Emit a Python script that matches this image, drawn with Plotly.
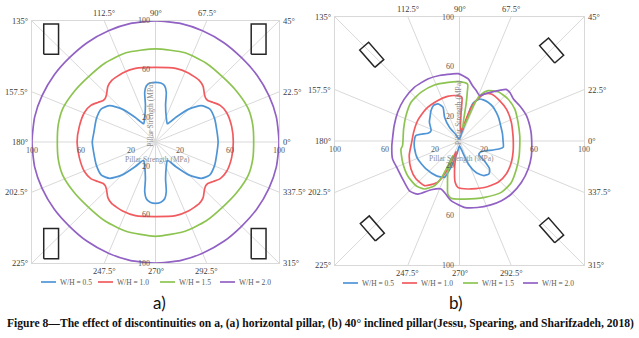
import numpy as np
import plotly.graph_objects as go

FIG_W, FIG_H = 639, 338

SERIES_NAMES = ["W/H = 0.5", "W/H = 1.0", "W/H = 1.5", "W/H = 2.0"]
SERIES_COLORS = ["#4f95d6", "#f15b5f", "#8dc451", "#9161c4"]

# ---------------- panel a : horizontal pillar (angle in degrees, strength in MPa)
A_THETA_05 = [0, 9, 22, 32, 39, 45, 51, 57.5, 65, 75, 78, 81, 85, 90, 95, 99, 102, 105, 115, 122.5,
              129, 135, 141, 148, 158, 171, 180, 189, 202, 212, 219, 225, 231, 237.5, 245, 255, 258,
              261, 265, 270, 275, 279, 282, 285, 295, 302.5, 309, 315, 321, 328, 338, 351, 360]
A_R_05 = [50.7, 50.5, 51.6, 51.7, 47.7, 38.7, 26.3, 17.9, 21, 31.5, 42, 47, 49, 49.3, 49, 47, 42, 31.5, 21, 17.9,
          26.3, 38.7, 47.7, 51.7, 51.6, 50.5, 51.2, 50.8, 51.6, 51.7, 47.7, 38.7, 26.3, 17.9, 21, 31.5, 42,
          47.5, 50, 50.7, 50, 47.5, 42, 31.5, 21, 17.9, 26.3, 38.7, 47.7, 51.7, 51.6, 50.5, 50.7]

A_THETA_10 = [0, 12, 23, 30, 35, 39, 42, 45, 50, 55, 65, 75, 90, 105, 115, 125, 130, 135, 138, 141, 145,
              150, 157, 168, 180, 192, 203, 210, 215, 219, 222, 225, 230, 235, 245, 255, 270, 285, 295,
              305, 310, 315, 318, 321, 325, 330, 337, 348, 360]
A_R_10 = [63, 63, 62.5, 60.5, 57, 54.5, 54.5, 56, 60, 62, 63, 63, 61.6, 63, 63, 62, 60, 56, 54.5, 54.5, 57,
          60.5, 62.5, 63, 63.5, 63, 62.5, 60.5, 57, 54.5, 54.5, 56, 60, 62, 63, 63, 61.6, 63, 63,
          62, 60, 56, 54.5, 54.5, 57, 60.5, 62.5, 63, 63]

A_THETA_15 = [0, 10, 20, 32, 44, 58, 72, 90, 108, 122, 136, 148, 160, 170, 180, 190, 200, 212, 224, 238,
              252, 270, 288, 302, 316, 328, 340, 350, 360]
A_R_15 = [79.5, 80, 80, 78, 76.5, 77, 77.5, 77, 77.5, 77, 76.5, 78, 80, 80, 79.5, 80, 80, 78, 76.5, 77,
          77.5, 78, 77.5, 77, 76.5, 78, 80, 80, 79.5]

A_THETA_20 = [0, 12, 22.5, 34, 45, 56, 67.5, 78, 90, 102, 112.5, 124, 135, 146, 157.5, 168, 180, 192, 202.5,
              214, 225, 236, 247.5, 258, 270, 282, 292.5, 304, 315, 326, 337.5, 348, 360]
A_R_20 = [100, 100, 99.5, 99, 98.5, 99, 99.5, 100, 100, 100, 99.5, 99, 98.5, 99, 99.5, 100, 100, 100, 99.5,
          99, 98.5, 99, 99.5, 100, 100, 100, 99.5, 99, 98.5, 99, 99.5, 100, 100]

# ---------------- panel b : 40 deg inclined pillar
B_THETA_05 = [0, 10, 20.5, 30, 38, 46, 53.8, 60, 64.5, 68, 70.5, 71.5, 72, 72.5, 75, 90, 110, 120, 126, 122,
              116, 120, 126, 133, 141, 148, 160, 166, 170, 173, 180, 188, 203, 220, 236, 247.6, 250.5, 254,
              259, 270, 282, 291, 298, 305, 312, 317, 321, 325, 332, 339, 345, 349, 352, 360]
B_R_05 = [35, 35, 35.3, 36.5, 37.5, 38.5, 38.7, 38.3, 37.5, 35, 32, 28, 20, 13, 6, 2, 2, 6, 13.7, 22.6,
          30.3, 34.5, 35.5, 33.5, 30.5, 28.5, 24.3, 26, 31.4, 35.4, 36.3, 36.6, 36.6, 35.1, 33.7, 31.7, 26, 18,
          10, 4, 7, 20, 29, 34, 35.5, 33, 26, 19, 19, 22, 28, 33, 35.5, 35]

B_THETA_10 = [0, 6, 20, 34, 45, 56, 62, 66.4, 71, 73, 77, 80, 85, 86.6, 86.9, 87, 94, 105, 118, 136, 154,
              169, 182, 196, 210, 221, 232, 237, 242.3, 247.4, 249.7, 252, 256, 260, 264, 268, 280, 298,
              313, 325, 338, 350, 360]
B_R_10 = [43.2, 43.2, 44.3, 45.6, 45.8, 45.7, 42.9, 37, 28.7, 18.5, 10, 7, 10, 13.7, 24.5, 35.3, 36.7, 37.2, 36.9,
          37.3, 37.4, 37.5, 38.5, 42, 45, 46.4, 45.7, 42, 37.6, 24.5, 15.5, 9, 13, 22.9, 33.5, 37.4, 39.3,
          42.5, 45.5, 46, 45, 43.8, 43.2]

B_THETA_15 = [0, 5, 18, 30, 41, 52, 60.6, 65, 68, 69.5, 72, 76, 79, 80, 81, 82, 91.6, 101, 114, 128, 141,
              154.6, 168, 184.7, 188, 200.6, 213.9, 226, 233.9, 240.8, 244, 245, 245.5, 248, 249.6, 255,
              257.6, 261.7, 275, 294, 309, 321, 333.7, 345, 360]
B_R_15 = [48.5, 48.6, 49.4, 51.3, 51.6, 50.4, 46.6, 41.7, 33.5, 22, 14, 11, 18, 31.6, 40, 46.4, 47.9, 48.2, 49.5,
          50, 49.9, 47.6, 45.9, 45.9, 47.5, 48.8, 50.2, 50.2, 47.9, 41.3, 33, 22, 13, 21.5, 27, 37.2, 43.8,
          46.7, 47, 49.7, 53.3, 53.4, 51, 49.5, 48.5]

B_THETA_20 = [0, 8, 21, 30, 38, 44, 48, 55, 62, 66, 72, 77, 82, 91, 97, 107, 117, 130, 143, 155, 167, 180,
              184, 195, 204, 214, 225, 232, 240, 249, 256, 262, 274, 285, 296, 305, 314, 326, 338, 348, 360]
B_R_20 = [58, 57.9, 57.5, 56.2, 55, 56.3, 56, 48.8, 43, 40, 43, 46, 50.5, 54.3, 54.4, 55.2, 56.1, 56.5, 55.8,
          54.8, 53.9, 54, 54.5, 55.7, 54.6, 55, 56.8, 54.4, 45.4, 41.4, 44.5, 48.6, 53.6, 55.5, 57.3, 58.8,
          59.7, 59.9, 59.6, 59, 58]

# ---------------- axes / labels
SPOKE_ANGLES = [0, 22.5, 45, 67.5, 90, 112.5, 135, 157.5, 180, 202.5, 225, 247.5, 270, 292.5, 315, 337.5]
ANGLE_LABELS = ["0°", "22.5°", "45°", "67.5°", "90°", "112.5°", "135°", "157.5°", "180°", "202.5°",
                "225°", "247.5°", "270°", "292.5°", "315°", "337.5°"]
TICK_VALUES = [-100, -60, -20, 20, 60, 100]
TICK_LABELS = ["100", "60", "20", "20", "60", "100"]
AXIS_TITLE = "Pillar Strength (MPa)"
PANEL_LABELS = ["a)", "b)"]
CAPTION = ("Figure 8—The effect of discontinuities on a, (a) horizontal pillar, (b) 40° inclined "
           "pillar(Jessu, Spearing, and Sharifzadeh, 2018)")

# pillar sketches: (centre x, centre y) in data units
A_PILLARS = [(-84.5, 85), (83.5, 85), (-84.5, -84), (83.5, -84)]
B_PILLARS = [(-70.5, 69.5), (74, 73), (-70, -70.5), (74, -72)]

PANELS = [
    dict(xa="x", ya="y", px_x=(32, 279), px_y=(21, 263),
         thetas=[A_THETA_05, A_THETA_10, A_THETA_15, A_THETA_20], rs=[A_R_05, A_R_10, A_R_15, A_R_20],
         pillars=A_PILLARS, pillar_size=(12, 25), pillar_tilt=0,
         legend_px=[41, 98, 160, 220], legend_y=282, vtitle_shift=-5, label_px=(159, 302)),
    dict(xa="x2", ya="y2", px_x=(335, 584), px_y=(17, 265),
         thetas=[B_THETA_05, B_THETA_10, B_THETA_15, B_THETA_20], rs=[B_R_05, B_R_10, B_R_15, B_R_20],
         pillars=B_PILLARS, pillar_size=(9.5, 18.5), pillar_tilt=41,
         legend_px=[343, 402, 463, 523], legend_y=283, vtitle_shift=-1, label_px=(456, 302)),
]

SERIF = "Liberation Serif"
GRID = "#d9d9d9"


def px2x(px):
    return px / FIG_W


def px2y(py):
    return 1 - py / FIG_H


fig = go.Figure()
shapes = []
annotations = []
layout_axes = {}

for pi, p in enumerate(PANELS):
    xa, ya = p["xa"], p["ya"]
    # curves
    for name, color, th, rr in zip(SERIES_NAMES, SERIES_COLORS, p["thetas"], p["rs"]):
        t = np.radians(np.asarray(th, float))
        r = np.asarray(rr, float)
        fig.add_trace(go.Scatter(x=r * np.cos(t), y=r * np.sin(t), mode="lines", name=name,
                                 line=dict(color=color, width=1.7, shape="spline", smoothing=0.6),
                                 xaxis=xa, yaxis=ya, showlegend=False, hoverinfo="skip"))
    # pillars
    w, h = p["pillar_size"]
    a = np.radians(p["pillar_tilt"])
    lx = np.array([-w / 2, w / 2, w / 2, -w / 2, -w / 2])
    ly = np.array([-h / 2, -h / 2, h / 2, h / 2, -h / 2])
    rx = lx * np.cos(a) - ly * np.sin(a)
    ry = lx * np.sin(a) + ly * np.cos(a)
    for cx, cy in p["pillars"]:
        fig.add_trace(go.Scatter(x=rx + cx, y=ry + cy, mode="lines", line=dict(color="#262626", width=1.5),
                                 xaxis=xa, yaxis=ya, showlegend=False, hoverinfo="skip"))
    # spokes + angle labels
    for ang, lab in zip(SPOKE_ANGLES, ANGLE_LABELS):
        c, s = np.cos(np.radians(ang)), np.sin(np.radians(ang))
        k = 100 / max(abs(c), abs(s))
        ex, ey = k * c, k * s
        if abs(ex) < 1e-9:
            ex = 0.0
        shapes.append(dict(type="line", xref=xa, yref=ya, x0=0, y0=0, x1=ex, y1=ey,
                           line=dict(color=GRID, width=1), layer="below"))
        ann = dict(xref=xa, yref=ya, x=ex, y=ey, text=lab, showarrow=False,
                   font=dict(family=SERIF, size=8.5, color="#404040"))
        if abs(ex) < 99.9:  # top / bottom edge
            if ey > 0:
                ann.update(xanchor="center", yanchor="bottom", yshift=1)
            else:
                ann.update(xanchor="center", yanchor="top", yshift=-1)
        else:
            if ex > 0:
                ann.update(xanchor="left", yanchor="middle", xshift=2)
            else:
                ann.update(xanchor="right", yanchor="middle", xshift=-2)
        annotations.append(ann)
    # tick labels along the crossing axes
    for v, lab in zip(TICK_VALUES, TICK_LABELS):
        annotations.append(dict(xref=xa, yref=ya, x=v, y=0, text=lab, showarrow=False, xanchor="center",
                                yanchor="top", yshift=-2, font=dict(family=SERIF, size=8, color="#595959")))
        annotations.append(dict(xref=xa, yref=ya, x=0, y=v, text=lab, showarrow=False, xanchor="right",
                                yanchor="middle", xshift=-4, font=dict(family=SERIF, size=8, color="#595959")))
    # axis titles
    annotations.append(dict(xref=xa, yref=ya, x=2, y=0, text=AXIS_TITLE, showarrow=False, xanchor="center",
                            yanchor="middle", yshift=-17, font=dict(family=SERIF, size=7.5, color="#8c8c8c")))
    annotations.append(dict(xref=xa, yref=ya, x=0, y=23, text=AXIS_TITLE, showarrow=False, textangle=-90,
                            xanchor="center", yanchor="middle", xshift=p["vtitle_shift"],
                            font=dict(family=SERIF, size=7.5, color="#8c8c8c")))
    # custom legend
    for x0, name, color in zip(p["legend_px"], SERIES_NAMES, SERIES_COLORS):
        shapes.append(dict(type="line", xref="paper", yref="paper", x0=px2x(x0), x1=px2x(x0 + 15),
                           y0=px2y(p["legend_y"]), y1=px2y(p["legend_y"]),
                           line=dict(color=color, width=1.7)))
        annotations.append(dict(xref="paper", yref="paper", x=px2x(x0 + 17), y=px2y(p["legend_y"]),
                                text=name, showarrow=False, xanchor="left", yanchor="middle",
                                font=dict(family=SERIF, size=7.5, color="#595959")))
    # panel label
    annotations.append(dict(xref="paper", yref="paper", x=px2x(p["label_px"][0]), y=px2y(p["label_px"][1]),
                            text=PANEL_LABELS[pi], showarrow=False, xanchor="center", yanchor="middle",
                            font=dict(family="Lato", size=17, color="#111111")))
    # axes
    xkey = "xaxis" if xa == "x" else "xaxis2"
    ykey = "yaxis" if ya == "y" else "yaxis2"
    axis_common = dict(range=[-100, 100], showgrid=False, zeroline=False, showticklabels=False,
                       ticks="", showline=True, mirror=True, linecolor=GRID, linewidth=1, fixedrange=True)
    layout_axes[xkey] = dict(domain=[px2x(p["px_x"][0]), px2x(p["px_x"][1])], anchor=ya, **axis_common)
    layout_axes[ykey] = dict(domain=[px2y(p["px_y"][1]), px2y(p["px_y"][0])], anchor=xa, **axis_common)

annotations.append(dict(xref="paper", yref="paper", x=px2x(320), y=px2y(323), text="<b>" + CAPTION + "</b>",
                        showarrow=False, xanchor="center", yanchor="middle",
                        font=dict(family=SERIF, size=11.6, color="#111111")))

fig.update_layout(width=FIG_W, height=FIG_H, margin=dict(l=0, r=0, t=0, b=0),
                  paper_bgcolor="white", plot_bgcolor="white", showlegend=False,
                  shapes=shapes, annotations=annotations, **layout_axes)

fig.write_html("out.html", config={"displayModeBar": False},
               post_script="document.body.style.margin='0';document.body.style.overflow='hidden';")
